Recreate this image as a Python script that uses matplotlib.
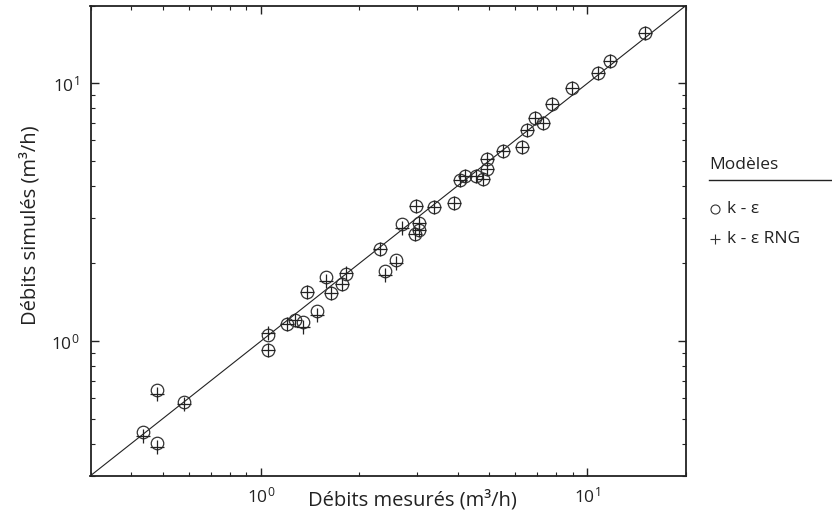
import matplotlib
matplotlib.use("Agg")
import matplotlib.pyplot as plt
from matplotlib.lines import Line2D
from matplotlib.ticker import LogLocator
import numpy as np

plt.rcParams['font.family'] = ['Open Sans', 'DejaVu Sans']
plt.rcParams['mathtext.fontset'] = 'custom'
plt.rcParams['mathtext.rm'] = 'Open Sans'
plt.rcParams['mathtext.it'] = 'Open Sans'

# Measured flow rates (m3/h)
x_mesure = [0.434, 0.478, 0.480, 0.582, 1.048, 1.048, 1.203, 1.270, 1.341, 1.385,
            1.480, 1.583, 1.633, 1.768, 1.815, 2.314, 2.392, 2.586, 2.706, 2.976,
            3.039, 3.046, 2.955, 3.378, 3.888, 4.075, 4.216, 4.539, 4.784, 4.914,
            4.938, 5.527, 6.317, 6.543, 6.888, 7.321, 7.801, 8.981, 10.78, 11.73,
            15.01]
# Simulated, k-epsilon model
y_keps = [0.445, 0.402, 0.646, 0.578, 1.058, 0.923, 1.164, 1.206, 1.182, 1.553,
          1.307, 1.767, 1.539, 1.660, 1.815, 2.265, 1.869, 2.062, 2.832, 3.342,
          2.878, 2.685, 2.602, 3.311, 3.441, 4.204, 4.379, 4.348, 4.241, 5.073,
          4.638, 5.437, 5.645, 6.588, 7.302, 7.033, 8.289, 9.563, 10.94, 12.21,
          15.74]
# Simulated, k-epsilon RNG model
y_rng = [0.429, 0.387, 0.623, 0.568, 1.069, 0.923, 1.164, 1.206, 1.133, 1.553,
         1.262, 1.702, 1.539, 1.660, 1.841, 2.265, 1.804, 2.008, 2.745, 3.342,
         2.878, 2.685, 2.602, 3.311, 3.441, 4.204, 4.379, 4.348, 4.241, 5.073,
         4.638, 5.437, 5.645, 6.588, 7.302, 7.033, 8.289, 9.563, 10.94, 12.21,
         15.74]
axis_limits = [0.3, 20]

W, H = 832, 516
fig = plt.figure(figsize=(W / 100, H / 100), dpi=100)
ax = fig.add_axes([90.5 / W, 1 - 475.7 / H, (685.7 - 90.5) / W, (475.7 - 5.7) / H])

ax.set_xscale('log')
ax.set_yscale('log')
ax.set_xlim(axis_limits)
ax.set_ylim(axis_limits)

ax.plot(axis_limits, axis_limits, color='#222222', lw=0.8, zorder=1)
ax.plot(x_mesure, y_keps, linestyle='none', marker='o', ms=9, mfc='none',
        mec='#333333', mew=0.9, zorder=2)
ax.plot(x_mesure, y_rng, linestyle='none', marker='+', ms=10,
        mec='#222222', mew=0.9, zorder=3)

for s in ax.spines.values():
    s.set_linewidth(1.3)
    s.set_color('#222222')

ax.xaxis.set_major_locator(LogLocator(base=10))
ax.yaxis.set_major_locator(LogLocator(base=10))
ax.tick_params(which='both', direction='in', top=True, right=True, colors='#222222')
ax.tick_params(which='major', length=6, width=1.0, labelsize=12.5, pad=8)
ax.tick_params(which='minor', length=3, width=0.8)

fig.text(412 / W, 1 - 500 / H, 'Débits mesurés (m³/h)', ha='center', va='center',
         fontsize=14.5, color='#222222')
fig.text(30 / W, 1 - 225 / H, 'Débits simulés (m³/h)', ha='center', va='center',
         rotation=90, fontsize=14.5, color='#222222')

# legend
fig.text(709 / W, 1 - 165 / H, 'Modèles', ha='left', va='center', fontsize=12.5,
         color='#222222')
fig.add_artist(Line2D([709 / W, 1.0], [1 - 180 / H, 1 - 180 / H],
                      transform=fig.transFigure, color='#222222', lw=1.0))
fig.add_artist(Line2D([715 / W], [1 - 209 / H], transform=fig.transFigure,
                      marker='o', ms=6.5, mfc='none', mec='#333333', mew=0.8,
                      linestyle='none'))
fig.add_artist(Line2D([715 / W], [1 - 239 / H], transform=fig.transFigure,
                      marker='+', ms=7, mec='#333333', mew=0.8, linestyle='none'))
fig.text(727 / W, 1 - 209 / H, 'k - ε', ha='left', va='center', fontsize=12.5,
         color='#222222')
fig.text(727 / W, 1 - 239 / H, 'k - ε RNG', ha='left', va='center', fontsize=12.5,
         color='#222222')

fig.savefig('out.png', dpi=100)
